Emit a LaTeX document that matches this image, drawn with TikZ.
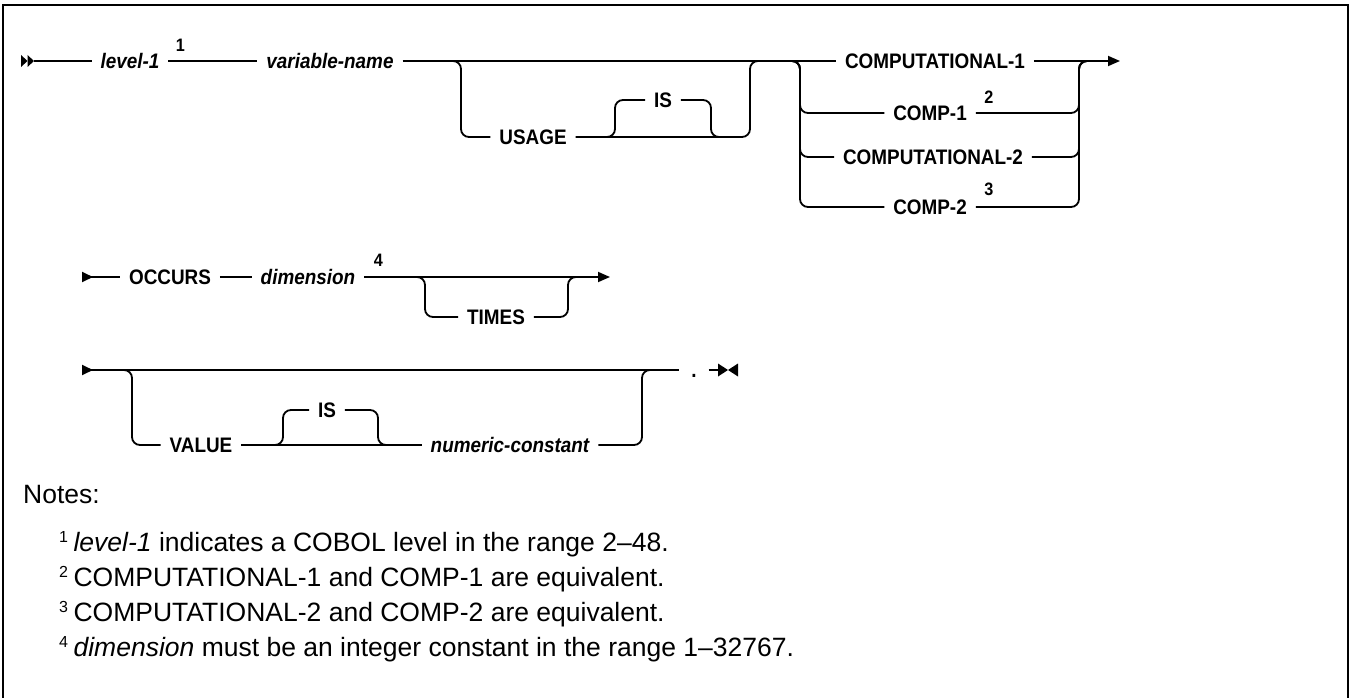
\documentclass[tikz,border=0pt]{standalone}
\usepackage{fontspec}
\setmainfont{Liberation Sans}
\newfontfamily\railfam{Liberation Sans}[FakeStretch=0.9]
\usepackage{tikz}
\usetikzlibrary{positioning, arrows.meta}

\newcommand\railfont{\railfam\fontsize{21}{24}\selectfont\bfseries}
\newcommand\supfont{\railfam\fontsize{18}{19}\selectfont\bfseries}
\newcommand\notefont{\fontsize{26.5}{30}\selectfont}
\newcommand\notesup[1]{\raisebox{9pt}{\fontsize{16}{16}\selectfont #1}\hspace{5.5pt}}

\tikzset{
  rail/.style={line width=1.8pt, rounded corners=8pt},
  kw/.style={font=\railfont, inner sep=0pt, outer xsep=9pt, text height=15pt, text depth=0pt},
  var/.style={kw, font=\railfont\itshape},
  supnum/.style={font=\supfont, inner sep=0pt},
  notetxt/.style={font=\notefont, inner sep=0pt, anchor=base west},
  begtri/.style={{Triangle[reversed, length=11pt, width=10pt]}-},
  endtri/.style={-{Triangle[length=12pt, width=10pt]}}
}

\begin{document}
\begin{tikzpicture}[x=1pt, y=-1pt]
  \useasboundingbox (0,0) rectangle (1351,698);
  \draw[line width=2.4pt] (3,698) -- (3,5) -- (1348,5) -- (1348,698);

  % first line
  \node[var] (lvl) at (130,61) {level-1};
  \node[supnum] (s1) at ([xshift=12pt, yshift=16pt]lvl.east) {1};
  \node[var] (vname) at (330,61) {variable-name};
  \node[kw] (usage) at (533,137) {USAGE};
  \node[kw] (is1) at (663,100) {IS};
  \node[kw] (cpt1) at (935,61) {COMPUTATIONAL-1};
  \node[kw] (cmp1) at (930,113) {COMP-1};
  \node[supnum] (s2) at ([xshift=13pt, yshift=16pt]cmp1.east) {2};
  \node[kw] (cpt2) at (933,157) {COMPUTATIONAL-2};
  \node[kw] (cmp2) at (930,207) {COMP-2};
  \node[supnum] (s3) at ([xshift=13pt, yshift=18pt]cmp2.east) {3};

  \coordinate (r1s) at (34,61);
  \coordinate (r1e) at (1120,61);
  \coordinate (uIn) at (451,61);
  \coordinate (uDn) at (461,137);
  \coordinate (uUp) at (750,61);
  \coordinate (uOut) at (760,61);
  \coordinate (isIn) at (605,137);
  \coordinate (isUp) at (615,100);
  \coordinate (isDn) at (711,137);
  \coordinate (isOut) at (721,137);
  \coordinate (chIn) at (790,61);
  \coordinate (chL) at (800,61);
  \coordinate (chR) at (1079,61);
  \coordinate (chOut) at (1089,61);

  \fill (21,55) -- (27.5,61) -- (21,67) -- cycle;
  \fill (27.5,55) -- (34,61) -- (27.5,67) -- cycle;
  \draw[rail] (r1s) -- (lvl.west);
  \draw[rail] (lvl.east) -- (vname.west);
  \draw[rail] (vname.east) -- (cpt1.west);
  \draw[rail, endtri] (cpt1.east) -- (r1e);
  \draw[rail] (uIn) -| (uDn) -- (usage.west);
  \draw[rail] (usage.east) -| (uUp) -- (uOut);
  \draw[rail] (isIn) -| (isUp) -- (is1.west);
  \draw[rail] (is1.east) -| (isDn) -- (isOut);
  \foreach \alt in {cmp1, cpt2, cmp2} {
    \draw[rail] (chIn) -| (chL |- \alt.west) -- (\alt.west);
    \draw[rail] (\alt.east) -| (chR) -- (chOut);
  }

  % second line
  \node[kw] (occ) at (170,277) {OCCURS};
  \node[var] (dim) at (308,277) {dimension};
  \node[supnum] (s4) at ([xshift=14pt, yshift=17pt]dim.east) {4};
  \node[kw] (times) at (496,317) {TIMES};

  \coordinate (r2s) at (82,277);
  \coordinate (r2e) at (610,277);
  \coordinate (tIn) at (415,277);
  \coordinate (tDn) at (425,317);
  \coordinate (tUp) at (568,277);
  \coordinate (tOut) at (578,277);

  \draw[rail, begtri] (r2s) -- (occ.west);
  \draw[rail] (occ.east) -- (dim.west);
  \draw[rail, endtri] (dim.east) -- (r2e);
  \draw[rail] (tIn) -| (tDn) -- (times.west);
  \draw[rail] (times.east) -| (tUp) -- (tOut);

  % third line
  \node[kw] (value) at (201,445) {VALUE};
  \node[kw] (is2) at (327,410) {IS};
  \node[var] (numc) at (510,445) {numeric-constant};
  \node[kw, outer xsep=12pt] (dot) at (694,370) {.};

  \coordinate (r3s) at (82,370);
  \coordinate (vIn) at (122,370);
  \coordinate (vDn) at (132,445);
  \coordinate (i2In) at (273,445);
  \coordinate (i2Up) at (283,410);
  \coordinate (i2Dn) at (378,445);
  \coordinate (i2Out) at (388,445);
  \coordinate (vUp) at (642,370);
  \coordinate (vOut) at (652,370);
  \coordinate (bowL) at (718,370);

  \draw[rail, begtri] (r3s) -- (dot.west);
  \draw[rail] (vIn) -| (vDn) -- (value.west);
  \draw[rail] (value.east) -- (numc.west);
  \draw[rail] (i2In) -| (i2Up) -- (is2.west);
  \draw[rail] (is2.east) -| (i2Dn) -- (i2Out);
  \draw[rail] (numc.east) -| (vUp) -- (vOut);
  \draw[rail] (dot.east) -- (bowL);
  \fill (718,363.5) -- (738,376.5) -- (738,363.5) -- (718,376.5) -- cycle;

  % notes
  \node[notetxt] (notes) at (23,503) {Notes:};
  \node[notetxt] (nt1) at (59,551) {\notesup{1}\textit{level-1} indicates a COBOL level in the range 2--48.};
  \node[notetxt] (nt2) at (59,586) {\notesup{2}COMPUTATIONAL-1 and COMP-1 are equivalent.};
  \node[notetxt] (nt3) at (59,621) {\notesup{3}COMPUTATIONAL-2 and COMP-2 are equivalent.};
  \node[notetxt] (nt4) at (59,656) {\notesup{4}\textit{dimension} must be an integer constant in the range 1--32767.};
\end{tikzpicture}
\end{document}
